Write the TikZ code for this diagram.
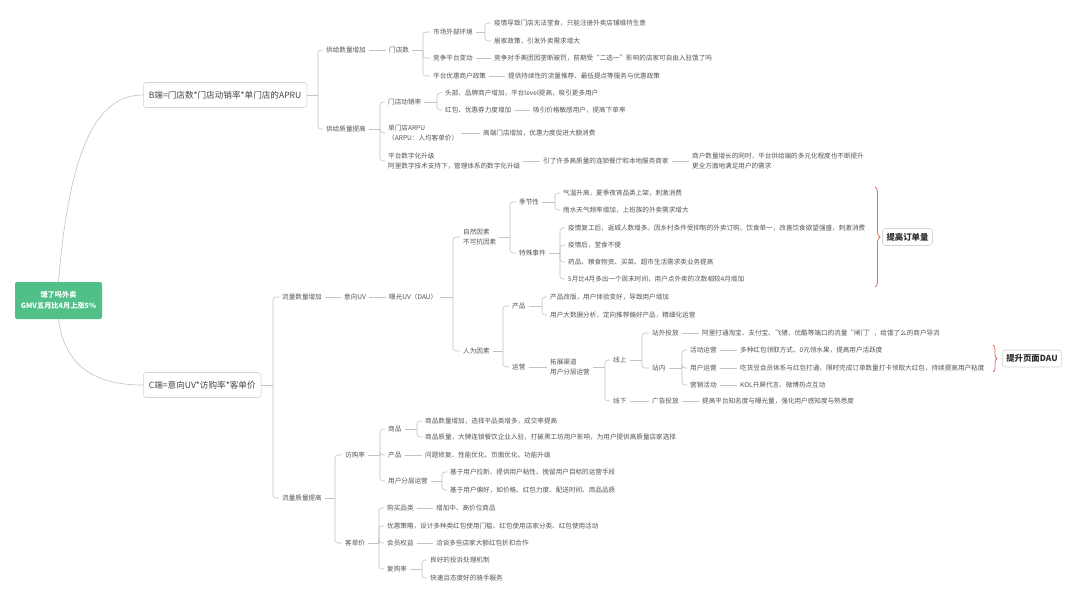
\documentclass[tikz,border=0pt]{standalone}
\usepackage{fontspec}
\setmainfont{Noto Sans CJK SC}
\usetikzlibrary{decorations.pathreplacing}
\definecolor{tc}{RGB}{85,85,85}
\definecolor{lc}{RGB}{195,195,195}
\definecolor{gr}{RGB}{80,192,136}
\definecolor{rb}{RGB}{226,110,110}
\definecolor{bc}{RGB}{212,212,212}
\newcommand\br[3]{%
  \path (#2,0) coordinate (sp);
  \draw[conn] (#1.east) -- (#1.east -| sp);
  \foreach \c in {#3}{\draw[conn,rounded corners=3pt] (#1.east -| sp) |- (\c.west);}
}
\newcommand\lk[2]{\draw[conn] (#1.east) -- (#2.west);}
\begin{document}
\begin{tikzpicture}[x=1pt,y=-1pt,
  tx/.style={anchor=west,inner xsep=3pt,inner ysep=1pt,text=tc,font=\fontsize{6.6}{10}\selectfont,align=left},
  conn/.style={draw=lc,line width=0.6pt},
  rootbox/.style={fill=gr,rounded corners=2pt,minimum width=87pt,minimum height=37pt,text=white,font=\bfseries\fontsize{7.2}{11}\selectfont,align=center,inner sep=0pt},
  cbox/.style={anchor=west,draw=bc,fill=white,rounded corners=3pt,text={rgb,255:red,70;green,70;blue,70},font=\fontsize{8.6}{10}\selectfont,minimum height=25pt,inner xsep=5.5pt,line width=0.6pt},
  tag/.style={draw=bc,fill=white,rounded corners=3pt,text={rgb,255:red,45;green,45;blue,45},font=\bfseries\fontsize{8.4}{10}\selectfont,minimum height=17pt,inner xsep=4pt,line width=0.6pt},
  bracebr/.style={draw=rb,line width=0.8pt,decorate,decoration={brace,amplitude=#1}}
]
\useasboundingbox[fill=white] (0,0) rectangle (1080,598);

% root and first level
\node[rootbox] (root) at (58.5,300.5) {饿了吗外卖\\GMV五月比4月上涨5\%};
\node[cbox] (B) at (143,95) {B端=门店数*门店动销率*单门店的APRU};
\node[cbox] (C) at (143,385) {C端=意向UV*访购率*客单价};
\draw[conn] (root.north) .. controls (70,140) and (100,95) .. (B.west);
\draw[conn] (root.south) .. controls (65,370) and (100,385) .. (C.west);

% ===== B side =====
\node[tx] (n1) at (323,50) {供给数量增加};
\node[tx] (n2) at (323,129) {供给质量提高};
\node[tx] (n11) at (386,50) {门店数};
\node[tx] (n111) at (430,32) {市场外部环境};
\node[tx] (n1111) at (491,23) {疫情导致门店无法堂食，只能注册外卖店铺维持生意};
\node[tx] (n1112) at (491,41) {居家政策，引发外卖需求增大};
\node[tx] (n112) at (430,58) {竞争平台变动};
\node[tx] (n1121) at (491,58) {竞争对手美团因垄断被罚，前期受“二选一”影响的店家可自由入驻饿了吗};
\node[tx] (n113) at (430,76) {平台优惠商户政策};
\node[tx] (n1131) at (505,76) {提供持续性的流量推荐、最低提点等服务与优惠政策};

\node[tx] (n21) at (385,102) {门店动销率};
\node[tx] (n211) at (442,93) {头部、品牌商户增加，平台level提高，吸引更多用户};
\node[tx] (n212) at (442,110) {红包、优惠券力度增加};
\node[tx] (n2121) at (530,110) {吸引价格敏感用户，提高下单率};
\node[tx] (n22) at (385,133) {单门店ARPU\\（ARPU：人均客单价）};
\node[tx] (n221) at (480,133) {高端门店增加，优惠力度促进大额消费};
\node[tx] (n23) at (385,161) {平台数字化升级\\阿里数字技术支持下，管理体系的数字化升级};
\node[tx] (n231) at (540,161) {引了许多高质量的连锁餐厅和本地服务商家};
\node[tx] (n2311) at (689,161) {商户数量增长的同时，平台供给端的多元化程度也不断提升\\更全方面地满足用户的需求};

\br{B}{318}{n1,n2}
\lk{n1}{n11}
\br{n11}{423}{n111,n112,n113}
\br{n111}{485}{n1111,n1112}
\lk{n112}{n1121}
\lk{n113}{n1131}
\br{n2}{380}{n21,n22,n23}
\br{n21}{437}{n211,n212}
\lk{n212}{n2121}
\lk{n22}{n221}
\lk{n23}{n231}
\lk{n231}{n2311}

% ===== C side =====
\node[tx] (c1) at (279,297) {流量数量增加};
\node[tx] (c2) at (279,498) {流量质量提高};
\node[tx] (c11) at (341,297) {意向UV};
\node[tx] (c111) at (386,297) {曝光UV（DAU）};
\node[tx] (ca) at (460,237) {自然因素\\不可抗因素};
\node[tx] (cb) at (460,351) {人为因素};
\node[tx] (ca1) at (516,202) {季节性};
\node[tx] (ca11) at (560,193) {气温升高，夏季夜宵品类上架，刺激消费};
\node[tx] (ca12) at (560,210) {雨水天气频率增加，上班族的外卖需求增大};
\node[tx] (ca2) at (516,253) {特殊事件};
\node[tx] (ca21) at (565,228) {疫情复工后，返城人数增多。因乡村条件受抑制的外卖订购、饮食单一，改善饮食欲望强盛，刺激消费};
\node[tx] (ca22) at (565,245) {疫情后，堂食不便};
\node[tx] (ca23) at (565,262) {药品、粮食物资、买菜、超市生活需求类业务提高};
\node[tx] (ca24) at (565,279) {5月比4月多出一个周末时间，用户点外卖的次数相较4月增加};
\node[tx] (cb1) at (509,306) {产品};
\node[tx] (cb11) at (547,297) {产品改版，用户体验变好，导致用户增加};
\node[tx] (cb12) at (547,315) {用户大数据分析，定向推荐偏好产品，精细化运营};
\node[tx] (cb2) at (509,367) {运营};
\node[tx] (cb21) at (547,367) {拓展渠道\\用户分层运营};
\node[tx] (on) at (610,360) {线上};
\node[tx] (off) at (610,401) {线下};
\node[tx] (on1) at (649,333) {站外投放};
\node[tx] (on11) at (699,333) {阿里打通淘宝、支付宝、飞猪、优酷等端口的流量“闸门”，给饿了么的商户导流};
\node[tx] (on2) at (649,368) {站内};
\node[tx] (on21) at (687,350) {活动运营};
\node[tx] (on211) at (737,350) {多种红包领取方式、0元领水果，提高用户活跃度};
\node[tx] (on22) at (687,368) {用户运营};
\node[tx] (on221) at (737,368) {吃货豆会员体系与红包打通，限时完成订单数量打卡领取大红包，持续提高用户粘度};
\node[tx] (on23) at (687,385) {营销活动};
\node[tx] (on231) at (737,385) {KOL开屏代言、微博热点互动};
\node[tx] (off1) at (649,401) {广告投放};
\node[tx] (off11) at (699,401) {提高平台知名度与曝光量，强化用户感知度与熟悉度};

\node[tx] (d1) at (342,455) {访购率};
\node[tx] (d2) at (342,543) {客单价};
\node[tx] (d11) at (385,429) {商品};
\node[tx] (d111) at (422,421) {商品数量增加，选择平品类增多，成交率提高};
\node[tx] (d112) at (422,437) {商品质量，大牌连锁餐饮企业入驻，打破黑工坊用户影响，为用户提供高质量店家选择};
\node[tx] (d12) at (385,455) {产品};
\node[tx] (d121) at (422,455) {问题修复、性能优化、页面优化、功能升级};
\node[tx] (d13) at (385,481) {用户分层运营};
\node[tx] (d131) at (447,472) {基于用户拉新、提供用户粘性、挽留用户目标的运营手段};
\node[tx] (d132) at (447,490) {基于用户偏好，如价格、红包力度、配送时间、商品品质};
\node[tx] (d21) at (384,508) {购买品类};
\node[tx] (d211) at (433,508) {增加中、高价位商品};
\node[tx] (d22) at (384,526) {优惠策略，设计多种类红包使用门槛、红包使用店家分类、红包使用活动};
\node[tx] (d23) at (384,543) {会员权益};
\node[tx] (d231) at (433,543) {洽谈多些店家大额红包折扣合作};
\node[tx] (d24) at (384,569) {复购率};
\node[tx] (d241) at (427,560) {良好的投诉处理机制};
\node[tx] (d242) at (427,578) {快速且态度好的骑手服务};

\br{C}{273}{c1,c2}
\lk{c1}{c11}
\lk{c11}{c111}
\br{c111}{453}{ca,cb}
\br{ca}{510}{ca1,ca2}
\br{ca1}{555}{ca11,ca12}
\br{ca2}{560}{ca21,ca22,ca23,ca24}
\br{cb}{503}{cb1,cb2}
\br{cb1}{542}{cb11,cb12}
\lk{cb2}{cb21}
\br{cb21}{605}{on,off}
\br{on}{642}{on1,on2}
\lk{on1}{on11}
\br{on2}{682}{on21,on22,on23}
\lk{on21}{on211}
\lk{on22}{on221}
\lk{on23}{on231}
\lk{off}{off1}
\lk{off1}{off11}
\br{c2}{335}{d1,d2}
\br{d1}{380}{d11,d12,d13}
\br{d11}{417}{d111,d112}
\lk{d12}{d121}
\br{d13}{442}{d131,d132}
\br{d2}{379}{d21,d22,d23,d24}
\lk{d21}{d211}
\lk{d23}{d231}
\br{d24}{422}{d241,d242}

% ===== tags =====
\node[tag] (t1) at (907.5,237) {提高订单量};
\node[tag] (t2) at (1032,358.5) {提升页面DAU};
\draw[bracebr=5pt] (875,187) -- (875,287);
\draw[bracebr=4pt] (993,345) -- (993,372);
\end{tikzpicture}
\end{document}
